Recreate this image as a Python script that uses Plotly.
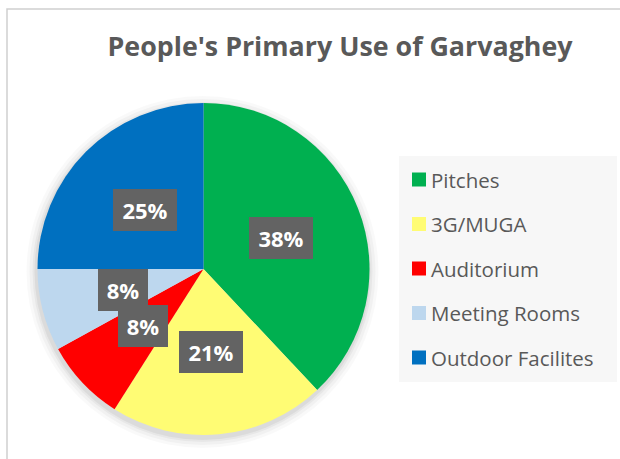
import math
import plotly.graph_objects as go

# ---- data ----
categories = ["Pitches", "3G/MUGA", "Auditorium", "Meeting Rooms", "Outdoor Facilites"]
values = [38, 21, 8, 8, 25]
colors = ["#00B050", "#FFFC74", "#FF0000", "#BDD7EE", "#0070C0"]
title_text = "People's Primary Use of Garvaghey"

W, H = 620, 459
# pie geometry in pixels
cx, cy, r = 203.5, 269.0, 166.0

def px(x):
    return x / W

def py(y):
    return 1 - y / H

fig = go.Figure(
    go.Pie(
        labels=categories,
        values=values,
        marker=dict(colors=colors, line=dict(width=0)),
        sort=False,
        direction="clockwise",
        rotation=0,
        textinfo="none",
        showlegend=False,
        hoverinfo="label+percent",
        domain=dict(x=[px(cx - r), px(cx + r)], y=[py(cy + r), py(cy - r)]),
    )
)

annotations = []
shapes = []

# soft shadow under the pie
for k, a in [(10, 0.025), (7, 0.03), (4, 0.04), (2, 0.05)]:
    shapes.append(dict(type="circle", xref="paper", yref="paper",
                       x0=px(cx - r - k - 1), x1=px(cx + r + k - 1),
                       y0=py(cy + r + k + 3), y1=py(cy - r - k + 3),
                       fillcolor=f"rgba(0,0,0,{a})", line=dict(width=0), layer="below"))

# data labels: boxes at half radius along each slice's mid angle
total = sum(values)
cum = 0
for cat, v in zip(categories, values):
    mid = (cum + v / 2) / total * 2 * math.pi
    cum += v
    lx = cx + 0.5 * r * math.sin(mid)
    ly = cy - 0.5 * r * math.cos(mid)
    pct = f"{round(v / total * 100)}%"
    annotations.append(dict(
        x=px(lx), y=py(ly), xref="paper", yref="paper",
        text=f"<b>{pct}</b>", showarrow=False,
        font=dict(family="Open Sans", size=22, color="white"),
        bgcolor="#636363", borderpad=7, borderwidth=0,
        width=50 if len(pct) == 3 else 36, height=28,
        xanchor="center", yanchor="middle",
    ))

# legend box
shapes.append(dict(type="rect", xref="paper", yref="paper",
                   x0=px(399), x1=px(617), y0=py(382), y1=py(156),
                   fillcolor="#F7F7F7", line=dict(width=0), layer="below"))
leg_top, leg_step = 179.5, 44.5
for i, (cat, col) in enumerate(zip(categories, colors)):
    yy = leg_top + i * leg_step
    shapes.append(dict(type="rect", xref="paper", yref="paper",
                       x0=px(412), x1=px(426), y0=py(yy + 7), y1=py(yy - 7),
                       fillcolor=col, line=dict(width=0)))
    annotations.append(dict(
        x=px(429), y=py(yy), xref="paper", yref="paper",
        text=cat, showarrow=False, xanchor="left", yanchor="middle",
        font=dict(family="Open Sans", size=20.5, color="#595959"),
    ))

# chart frame
shapes.append(dict(type="rect", xref="paper", yref="paper",
                   x0=px(7), x1=1.2, y0=-0.2, y1=py(9),
                   fillcolor="rgba(0,0,0,0)", line=dict(color="#CFCFCF", width=1.5)))

fig.update_layout(
    width=W, height=H,
    margin=dict(l=0, r=0, t=0, b=0),
    paper_bgcolor="white",
    plot_bgcolor="white",
    title=dict(text=f"<b>{title_text}</b>", x=px(340), y=py(47),
               xanchor="center", yanchor="middle",
               font=dict(family="Open Sans", size=26.8, color="#595959")),
    annotations=annotations,
    shapes=shapes,
)

fig.write_html(
    "out.html",
    config={"displayModeBar": False},
    post_script="document.body.style.margin='0';document.body.style.overflow='hidden';",
)
